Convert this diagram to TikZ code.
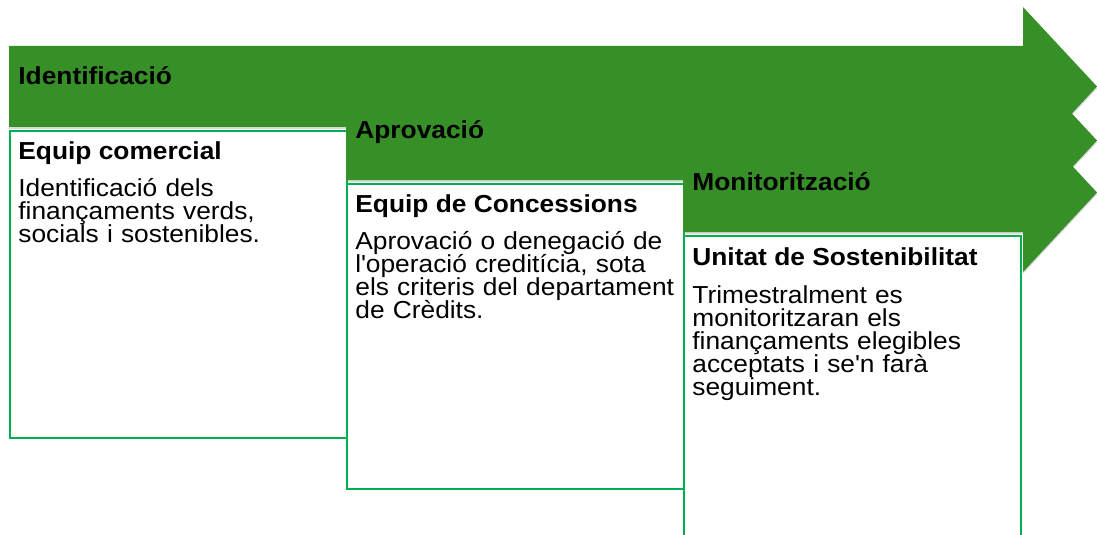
\documentclass[tikz,border=0pt]{standalone}
\usepackage{fontspec}
\setmainfont[FakeStretch=1.07]{Liberation Sans}
\usepackage{tikz}
\usetikzlibrary{positioning,shadows}
\definecolor{stagegreen}{HTML}{378F28}
\definecolor{cardgreen}{HTML}{00B050}

\begin{document}
\begin{tikzpicture}[
    x=0.5pt, y=-0.5pt,
    stage/.style={fill=stagegreen,
                  drop shadow={shadow xshift=0pt, shadow yshift=-1pt, opacity=0.3}},
    stagelabel/.style={anchor=base west, inner sep=0pt,
                       font=\fontsize{12.3}{11.5}\selectfont\bfseries},
    card/.style={draw=cardgreen, line width=0.8pt, fill=white, anchor=north west,
                 minimum width=168.5pt, inner sep=0pt},
    cardtitle/.style={anchor=base west, inner sep=0pt,
                      font=\fontsize{12.3}{11.5}\selectfont\bfseries},
    cardtext/.style={anchor=base west, inner sep=0pt, text width=166pt, align=left,
                     font=\fontsize{12.3}{11.6}\selectfont,
                     execute at begin node={\setlength{\lineskiplimit}{-100pt}}},
]
\useasboundingbox (0,0) rectangle (1097,535);

% stage 1
\fill[stage] (9,46) -- (1023,46) -- (1023,7) -- (1097,86.5) -- (1023,166)
    -- (1023,127) -- (9,127) -- cycle;
\node[stagelabel] (s1) at (18,85) {Identificació};
\node[card, minimum height=153.5pt] (c1) at (9,130) {};
\node[cardtitle] (t1) at (18,160) {Equip comercial};
\node[cardtext] (d1) at (18,196)
    {Identificació dels\\ finançaments verds,\\ socials i sostenibles.};

% stage 2
\fill[stage] (346,101) -- (1023,101) -- (1023,61) -- (1097,140.5) -- (1023,220)
    -- (1023,180) -- (346,180) -- cycle;
\node[stagelabel] (s2) at (355,139) {Aprovació};
\node[card, minimum height=152.5pt] (c2) at (346,183) {};
\node[cardtitle] (t2) at (355,212) {Equip de Concessions};
\node[cardtext] (d2) at (355,249)
    {Aprovació o denegació de\\ l\textquotesingle operació creditícia, sota\\ els criteris del departament\\ de Crèdits.};

% stage 3
\fill[stage] (683,153) -- (1023,153) -- (1023,113) -- (1097,192.5) -- (1023,272)
    -- (1023,232) -- (683,232) -- cycle;
\node[stagelabel] (s3) at (692,191) {Monitorització};
\node[card, minimum height=155pt] (c3) at (683,235) {};
\node[cardtitle] (t3) at (692,265) {Unitat de Sostenibilitat};
\node[cardtext] (d3) at (692,303)
    {Trimestralment es\\ monitoritzaran els\\ finançaments elegibles\\ acceptats i se\textquotesingle n farà\\ seguiment.};
\end{tikzpicture}
\end{document}
